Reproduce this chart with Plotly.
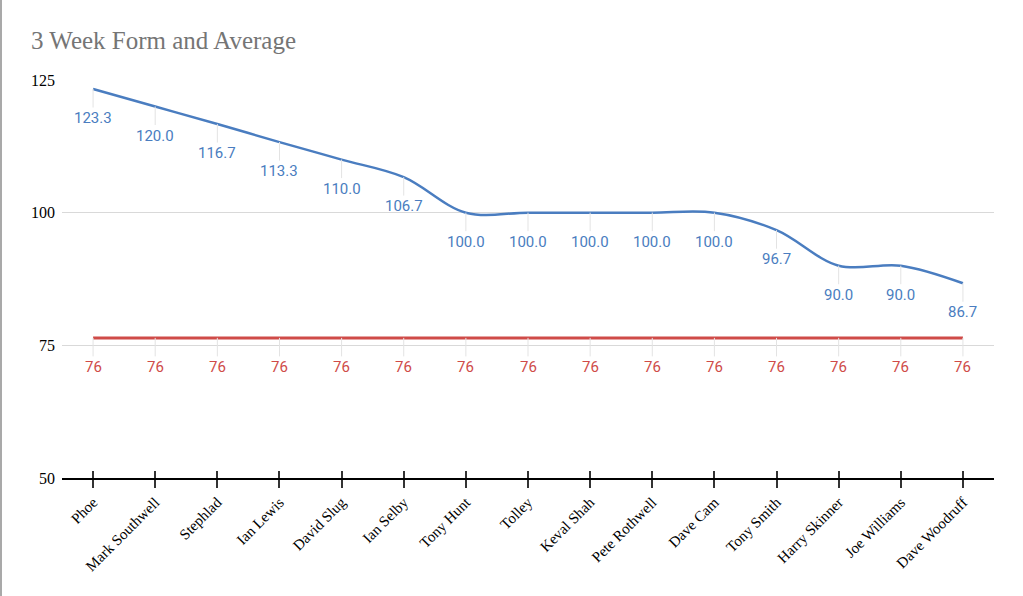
import plotly.graph_objects as go

names = ["Phoe", "Mark Southwell", "Stephlad", "Ian Lewis", "David Slug", "Ian Selby",
         "Tony Hunt", "Tolley", "Keval Shah", "Pete Rothwell", "Dave Cam", "Tony Smith",
         "Harry Skinner", "Joe Williams", "Dave Woodruff"]
form = [123.3, 120.0, 116.7, 113.3, 110.0, 106.7, 100.0, 100.0, 100.0, 100.0, 100.0,
        96.7, 90.0, 90.0, 86.7]
average = [76.4] * len(names)
y_ticks = [50, 75, 100, 125]

BLUE = "#4a7dc0"
RED = "#cf4b48"
W, H = 1023, 596
L, R, T, B = 62, 29, 80, 118

fig = go.Figure()
fig.add_trace(go.Scatter(x=names, y=form, mode="lines", name="Form",
                         line=dict(color=BLUE, width=2.5, shape="spline", smoothing=1.0)))
fig.add_trace(go.Scatter(x=names, y=average, mode="lines", name="Average",
                         line=dict(color=RED, width=3)))

ann = []
for n, v in zip(names, form):
    ann.append(dict(x=n, y=v, xref="x", yref="y", text=f"{v:.1f}", showarrow=True,
                    arrowhead=0, arrowwidth=1, arrowcolor="#e3e3e3", ax=0, ay=29,
                    font=dict(family="Roboto", size=15, color=BLUE)))
for n, v in zip(names, average):
    ann.append(dict(x=n, y=v, xref="x", yref="y", text=f"{v:.0f}", showarrow=True,
                    arrowhead=0, arrowwidth=1, arrowcolor="#e3e3e3", ax=0, ay=29,
                    font=dict(family="Roboto", size=15, color=RED)))

pw = W - L - R
ph = H - T - B
shapes = [dict(type="line", xref="paper", yref="paper",
               x0=(1 - L) / pw, x1=(1 - L) / pw, y0=(H - T) / ph + 0.01, y1=-B / ph - 0.01,
               line=dict(color="#a9a9a9", width=2))]

fig.update_layout(
    width=W, height=H,
    margin=dict(l=L, r=R, t=T, b=B, autoexpand=False),
    paper_bgcolor="white", plot_bgcolor="white",
    showlegend=False,
    title=dict(text="3 Week Form and Average", x=31 / W, xanchor="left", y=1 - 40 / H,
               yanchor="middle", font=dict(family="Liberation Serif", size=25, color="#757575")),
    annotations=ann,
    shapes=shapes,
    xaxis=dict(type="category", range=[-0.5, len(names) - 0.5], showgrid=False,
               showline=True, linecolor="black", linewidth=1.5,
               ticks="outside", ticklen=8, tickwidth=1.5, tickcolor="#333",
               tickangle=-45, tickfont=dict(family="Liberation Serif", size=15, color="black"),
               zeroline=False),
    xaxis2=dict(overlaying="x", anchor="y", side="bottom", range=[-0.5, len(names) - 0.5],
                tickmode="array", tickvals=list(range(len(names))), showticklabels=False,
                ticks="inside", ticklen=7, tickwidth=1.5, tickcolor="#333",
                showgrid=False, zeroline=False, showline=False),
    yaxis=dict(range=[50, 125], tickvals=y_ticks, showgrid=True, gridcolor="#d9d9d9",
               gridwidth=1, zeroline=False, showline=False, ticks="",
               ticklabelstandoff=6,
               tickfont=dict(family="Liberation Serif", size=16, color="black")),
)
fig.add_trace(go.Scatter(x=[0], y=[None], xaxis="x2", yaxis="y", showlegend=False,
                         hoverinfo="skip"))

fig.write_html("out.html", config={"displayModeBar": False},
               post_script="document.body.style.margin='0';")
